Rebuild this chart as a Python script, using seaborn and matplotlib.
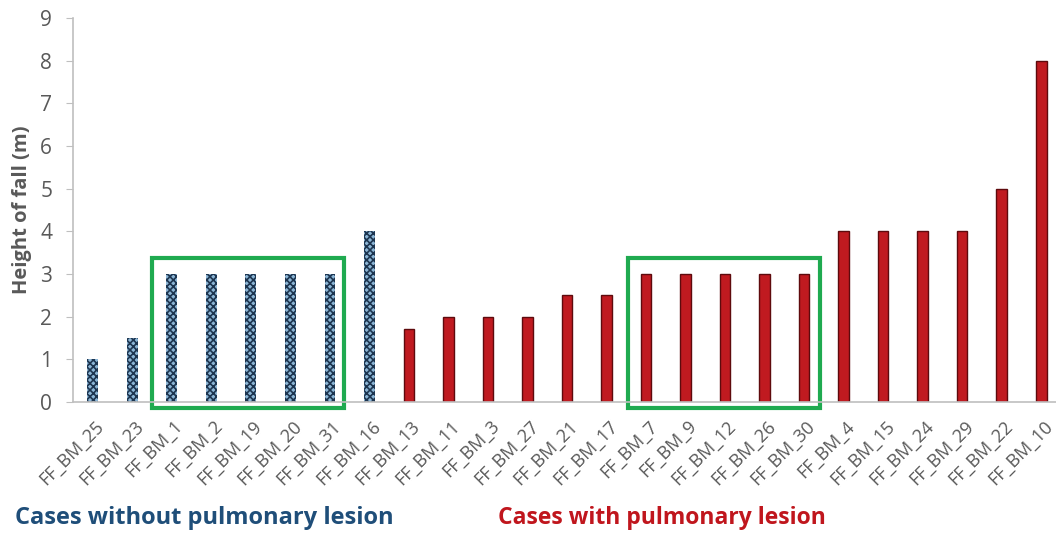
import numpy as np
import pandas as pd
import matplotlib.pyplot as plt
import matplotlib.transforms as mtransforms
import seaborn as sns
from matplotlib.patches import Rectangle

# data
cases_without = ['FF_BM_25', 'FF_BM_23', 'FF_BM_1', 'FF_BM_2', 'FF_BM_19',
                 'FF_BM_20', 'FF_BM_31', 'FF_BM_16']
heights_without = [1, 1.5, 3, 3, 3, 3, 3, 4]
cases_with = ['FF_BM_13', 'FF_BM_11', 'FF_BM_3', 'FF_BM_27', 'FF_BM_21',
              'FF_BM_17', 'FF_BM_7', 'FF_BM_9', 'FF_BM_12', 'FF_BM_26',
              'FF_BM_30', 'FF_BM_4', 'FF_BM_15', 'FF_BM_24', 'FF_BM_29',
              'FF_BM_22', 'FF_BM_10']
heights_with = [1.7, 2, 2, 2, 2.5, 2.5, 3, 3, 3, 3, 3, 4, 4, 4, 4, 5, 8]

df = pd.DataFrame({
    'case': cases_without + cases_with,
    'height': heights_without + heights_with,
    'group': ['without'] * len(cases_without) + ['with'] * len(cases_with),
})

sns.set_style('white')
plt.rcParams['font.family'] = ['Open Sans', 'DejaVu Sans']
plt.rcParams['hatch.color'] = '#1d3550'
plt.rcParams['hatch.linewidth'] = 1.2

fig = plt.figure(figsize=(10.56, 5.37), dpi=100)
ax = fig.add_axes([0.0691, 0.2514, 0.9356, 0.715])

sns.barplot(data=df, x='case', y='height', hue='group', dodge=False,
            palette={'without': '#8cb6d6', 'with': '#c01a20'},
            width=0.27, legend=False, ax=ax, saturation=1)

for bar, grp in zip(ax.patches, df['group']):
    if grp == 'without':
        bar.set_hatch('xxxxx')
        bar.set_edgecolor('#1d3550')
        bar.set_linewidth(0)
    else:
        bar.set_edgecolor('#5e0a0d')
        bar.set_linewidth(1.0)

ax.set_xlim(-0.5, len(df) - 0.5)
ax.set_ylim(0, 9)
ax.set_yticks(range(0, 10))
ax.set_xlabel('')
ax.set_ylabel('Height of fall (m)', fontsize=14.5, fontweight='bold',
              color='#595959', labelpad=6)
ax.tick_params(axis='y', labelsize=15, labelcolor='#595959', length=5,
               color='#bfbfbf', left=True, direction='out', pad=10)
ax.tick_params(axis='x', length=0)

# rotated case labels, placed like the Excel original
ax.set_xticklabels([])
offset = mtransforms.ScaledTranslation(0.02, -0.15, fig.dpi_scale_trans)
trans = ax.get_xaxis_transform() + offset
for i, name in enumerate(df['case']):
    ax.text(i, 0, name, transform=trans, rotation=45, ha='right', va='top',
            rotation_mode='anchor', fontsize=13, color='#595959')

sns.despine(ax=ax)
for s in ['left', 'bottom']:
    ax.spines[s].set_color('#bfbfbf')
    ax.spines[s].set_linewidth(1.2)

# green boxes around the 3 m groups
for x0, x1 in [(1.5, 6.35), (13.55, 18.4)]:
    ax.add_patch(Rectangle((x0, -0.14), x1 - x0, 3.51, fill=False,
                           edgecolor='#1faa50', linewidth=3, clip_on=False))

fig.text(0.014, 0.025, 'Cases without pulmonary lesion', fontsize=17,
         fontweight='bold', color='#1f4e79')
fig.text(0.472, 0.025, 'Cases with pulmonary lesion', fontsize=16.5,
         fontweight='bold', color='#c0161d')

fig.savefig('out.png', dpi=100)
